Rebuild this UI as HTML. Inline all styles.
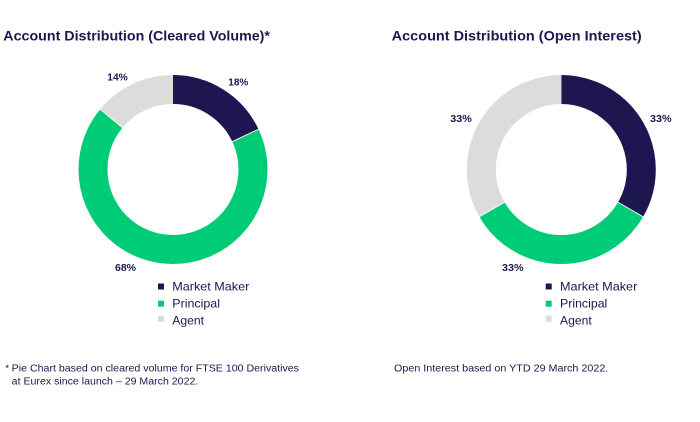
<!DOCTYPE html>
<html>
<head>
<meta charset="utf-8">
<style>
html,body{margin:0;padding:0;background:#fff;}
svg{display:block;}
text{font-family:"Liberation Sans",Arial,sans-serif;fill:#1e1650;}
.t{font-weight:bold;font-size:13.5px;}
.l{font-weight:bold;font-size:10.5px;}
.g{font-size:12px;}
.f{font-size:10px;}
</style>
</head>
<body>
<svg width="700" height="422" viewBox="0 0 700 422" xmlns="http://www.w3.org/2000/svg">
<rect width="700" height="422" fill="#fff"/>
<!-- Titles -->
<text class="t" x="3.3" y="40.7" textLength="266.7" lengthAdjust="spacingAndGlyphs">Account Distribution (Cleared Volume)*</text>
<text class="t" x="391.7" y="40.7" textLength="250" lengthAdjust="spacingAndGlyphs">Account Distribution (Open Interest)</text>

<!-- Left donut: C = 502.655 -->
<g transform="translate(173,169.5) rotate(-90)" fill="none" stroke-width="29">
  <circle r="80" stroke="#1e1650" stroke-dasharray="90.48 502.655" stroke-dashoffset="0"/>
  <circle r="80" stroke="#00cc77" stroke-dasharray="341.81 502.655" stroke-dashoffset="-90.48"/>
  <circle r="80" stroke="#dcdcdc" stroke-dasharray="70.37 502.655" stroke-dashoffset="-432.29"/>
</g>
<g stroke="#fff" stroke-width="0.9">
  <line x1="231.8" y1="141.8" x2="259.9" y2="128.6"/>
  <line x1="122.9" y1="128.1" x2="99.0" y2="108.3"/>
</g>

<!-- Right donut -->
<g transform="translate(561.3,169.5) rotate(-90)" fill="none" stroke-width="29">
  <circle r="80" stroke="#1e1650" stroke-dasharray="167.55 502.655" stroke-dashoffset="0"/>
  <circle r="80" stroke="#00cc77" stroke-dasharray="167.55 502.655" stroke-dashoffset="-167.55"/>
  <circle r="80" stroke="#dcdcdc" stroke-dasharray="167.56 502.655" stroke-dashoffset="-335.1"/>
</g>
<g stroke="#fff" stroke-width="0.9">
  <line x1="617.6" y1="202" x2="644.4" y2="217.5"/>
  <line x1="505" y1="202" x2="478.2" y2="217.5"/>
</g>

<!-- Percent labels -->
<text class="l" x="228.3" y="85.7" textLength="20" lengthAdjust="spacingAndGlyphs">18%</text>
<text class="l" x="107.3" y="80.7" textLength="20.4" lengthAdjust="spacingAndGlyphs">14%</text>
<text class="l" x="115" y="271" textLength="21" lengthAdjust="spacingAndGlyphs">68%</text>

<text class="l" x="650" y="122" textLength="21.5" lengthAdjust="spacingAndGlyphs">33%</text>
<text class="l" x="450.3" y="122" textLength="21.5" lengthAdjust="spacingAndGlyphs">33%</text>
<text class="l" x="502" y="271" textLength="21.5" lengthAdjust="spacingAndGlyphs">33%</text>

<!-- Left legend -->
<rect x="158" y="283.5" width="6" height="6" fill="#1e1650"/>
<rect x="158" y="300.7" width="6" height="6" fill="#00cc77"/>
<rect x="158" y="315.7" width="6" height="6" fill="#dcdcdc"/>
<text class="g" x="172.3" y="290.5" textLength="77" lengthAdjust="spacingAndGlyphs">Market Maker</text>
<text class="g" x="172.3" y="307.5" textLength="47.7" lengthAdjust="spacingAndGlyphs">Principal</text>
<text class="g" x="172.3" y="324.3" textLength="31.7" lengthAdjust="spacingAndGlyphs">Agent</text>

<!-- Right legend -->
<rect x="545.7" y="283.5" width="6" height="6" fill="#1e1650"/>
<rect x="545.7" y="300.7" width="6" height="6" fill="#00cc77"/>
<rect x="545.7" y="315.7" width="6" height="6" fill="#dcdcdc"/>
<text class="g" x="560" y="290.5" textLength="77.3" lengthAdjust="spacingAndGlyphs">Market Maker</text>
<text class="g" x="560" y="307.5" textLength="47.3" lengthAdjust="spacingAndGlyphs">Principal</text>
<text class="g" x="560" y="324.3" textLength="31.7" lengthAdjust="spacingAndGlyphs">Agent</text>

<!-- Footnotes -->
<text class="f" x="5.2" y="371.7">*</text>
<text class="f" x="11.7" y="371.7" textLength="287.3" lengthAdjust="spacingAndGlyphs">Pie Chart based on cleared volume for FTSE 100 Derivatives</text>
<text class="f" x="11.7" y="384.5" textLength="186.6" lengthAdjust="spacingAndGlyphs">at Eurex since launch – 29 March 2022.</text>
<text class="f" x="394" y="371.7" textLength="214.3" lengthAdjust="spacingAndGlyphs">Open Interest based on YTD 29 March 2022.</text>
</svg>
</body>
</html>
